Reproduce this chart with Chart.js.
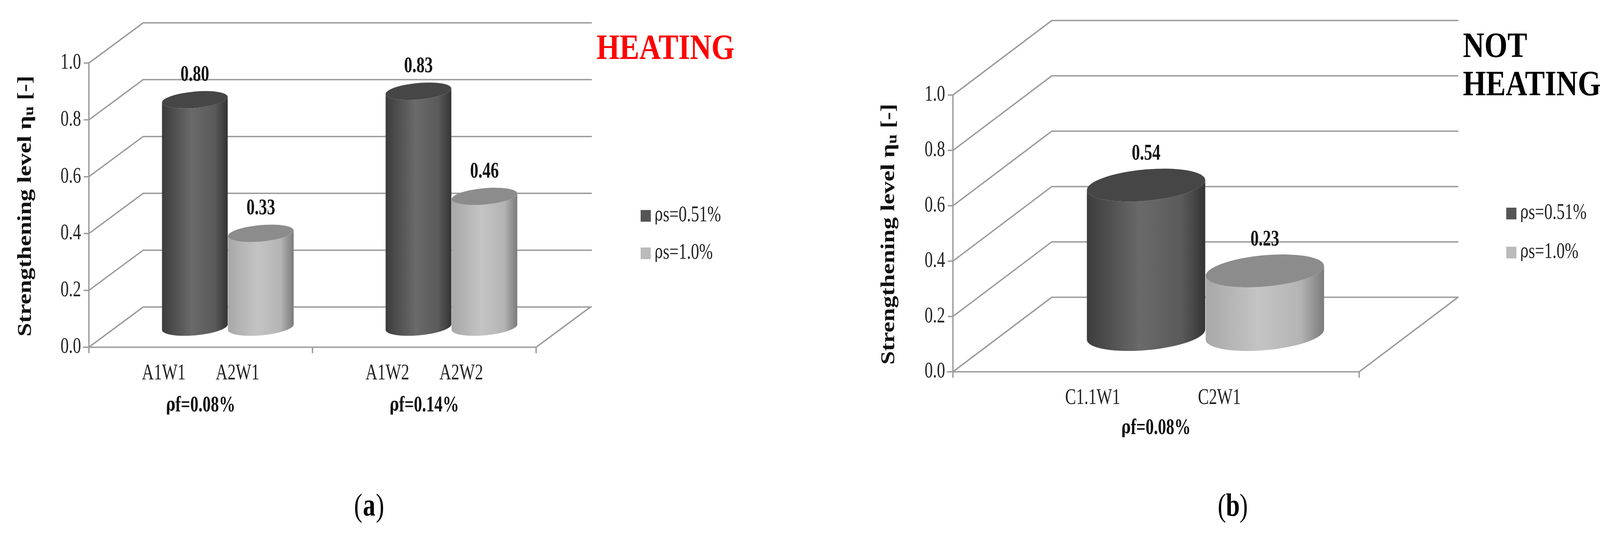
<!DOCTYPE html>
<html><head><meta charset="utf-8">
<script src="https://cdn.jsdelivr.net/npm/chart.js@4"></script>
<style>html,body{margin:0;padding:0;background:#fff;width:4131px;height:1368px;overflow:hidden}
canvas{position:absolute;top:0}</style></head>
<body>
<canvas id="a" width="2066" height="1368" style="left:0"></canvas>
<canvas id="b" width="2065" height="1368" style="left:2066px"></canvas>
<script>
const yTicks = [0.0, 0.2, 0.4, 0.6, 0.8, 1.0];
const seriesLabels = ['ρs=0.51%', 'ρs=1.0%'];
const catsA = ['ρf=0.08%', 'ρf=0.14%'];
const subA = [['A1W1', 'A2W1'], ['A1W2', 'A2W2']];
const darkA = [0.80, 0.83];
const lightA = [0.33, 0.46];
const catsB = ['ρf=0.08%'];
const subB = [['C1.1W1', 'C2W1']];
const darkB = [0.54];
const lightB = [0.23];

const SERIF = '"Liberation Serif", serif';
const GREEK = '"DejaVu Serif", "Noto Sans", serif';

// draw text vertically stretched by sy; Greek rho drawn with a font that has it
function txt(c, s, x, y, size, bold, align, sy) {
  const w = bold ? 'bold ' : '';
  const parts = [];
  let buf = '';
  for (const ch of s) {
    if (ch === 'ρ') { if (buf) parts.push([buf, SERIF]); buf = ''; parts.push(['ρ', GREEK]); }
    else buf += ch;
  }
  if (buf) parts.push([buf, SERIF]);
  let total = 0;
  const ws = parts.map(([t, f]) => { c.font = w + (f === GREEK ? Math.round(size * 0.85) : size) + 'px ' + f; const m = c.measureText(t).width; total += m; return m; });
  let x0 = align === 'center' ? -total / 2 : align === 'right' ? -total : 0;
  c.save();
  c.translate(x, y); c.scale(1, sy);
  c.textAlign = 'left'; c.textBaseline = 'middle';
  parts.forEach(([t, f], i) => {
    c.font = w + (f === GREEK ? Math.round(size * 0.85) : size) + 'px ' + f;
    c.fillText(t, x0, 0); x0 += ws[i];
  });
  c.restore();
}

function make(id, cats, sub, dark, light, cfg) {
  const SY = 1.35;
  const plugin = {
    id: 'fake3d',
    beforeDatasetsDraw(chart) {
      const c = chart.ctx, ys = chart.scales.y, a = chart.chartArea;
      const hx = cfg.dx / 2, hy = cfg.dy / 2;
      const fl = a.left - hx, fr = a.right - hx, br = a.right + cfg.backExtra;
      c.save();
      c.strokeStyle = '#9a9a9a'; c.lineWidth = 3.5; c.lineCap = 'round';
      yTicks.forEach(v => {
        const py = ys.getPixelForValue(v);
        c.beginPath();
        c.moveTo(fl, py + hy); c.lineTo(a.left + hx, py - hy); c.lineTo(br, py - hy);
        c.stroke();
      });
      const p0 = ys.getPixelForValue(0), p1 = ys.getPixelForValue(1);
      c.beginPath();
      c.moveTo(fl, p1 + hy); c.lineTo(fl, p0 + hy + 14);
      c.moveTo(fl - 14, p0 + hy); c.lineTo(fr, p0 + hy); c.lineTo(a.right + hx, p0 - hy);
      yTicks.forEach(v => { const py = ys.getPixelForValue(v) + hy; c.moveTo(fl - 12, py); c.lineTo(fl, py); });
      for (let i = 0; i <= cats.length; i++) {
        const x = fl + (fr - fl) * i / cats.length;
        c.moveTo(x, p0 + hy); c.lineTo(x, p0 + hy + 14);
      }
      c.stroke();
      c.fillStyle = '#222';
      yTicks.forEach(v => txt(c, v.toFixed(1), fl - 20, ys.getPixelForValue(v) + hy, cfg.tickFont, false, 'right', SY));
      const xs = chart.scales.x;
      cats.forEach((cat, i) => {
        chart.data.datasets.forEach((ds, j) => {
          const el = chart.getDatasetMeta(j).data[i];
          txt(c, sub[i][j], el.x - hx + (j === 0 ? -10 : 10), p0 + hy + cfg.subDy, cfg.tickFont, false, 'center', SY);
        });
        c.fillStyle = '#111';
        txt(c, cat, xs.getPixelForValue(i) - hx, p0 + hy + cfg.catDy, cfg.tickFont, true, 'center', SY);
        c.fillStyle = '#222';
      });
      // y title (rotated, stretched along its length)
      c.save();
      c.translate(cfg.titleX, cfg.titleY); c.rotate(-Math.PI / 2); c.scale(cfg.titleStretch, 1);
      c.fillStyle = '#111'; c.textBaseline = 'middle'; c.textAlign = 'left';
      const F = cfg.titleFont, f2 = Math.round(F * 0.7);
      c.font = 'bold ' + F + 'px ' + SERIF;
      const t1 = 'Strengthening level η', w1 = c.measureText(t1).width;
      const t3 = ' [-]', w3 = c.measureText(t3).width;
      c.font = 'bold ' + f2 + 'px ' + SERIF;
      const w2 = c.measureText('u').width;
      let x0 = -(w1 + w2 + w3) / 2;
      c.font = 'bold ' + F + 'px ' + SERIF; c.fillText(t1, x0, 0);
      c.font = 'bold ' + f2 + 'px ' + SERIF; c.fillText('u', x0 + w1, F * 0.2);
      c.font = 'bold ' + F + 'px ' + SERIF; c.fillText(t3, x0 + w1 + w2, 0);
      c.restore();
      c.restore();
    },
    afterDatasetsDraw(chart) {
      const c = chart.ctx, ys = chart.scales.y;
      const ry = cfg.ry, rot = -0.09;
      const order = [];
      chart.data.datasets.forEach((ds, j) => chart.getDatasetMeta(j).data.forEach((el, i) => order.push({ el, j, v: ds.data[i] })));
      order.sort((p, q) => p.el.x - q.el.x);
      order.forEach(({ el, j, v }) => {
        const rx = el.width / 2, cx = el.x, top = el.y, bot = ys.getPixelForValue(0);
        const g = c.createLinearGradient(cx - rx, 0, cx + rx, 0);
        if (j === 0) { g.addColorStop(0, '#3c3c3c'); g.addColorStop(0.45, '#6a6a6a'); g.addColorStop(0.8, '#5a5a5a'); g.addColorStop(1, '#333'); }
        else { g.addColorStop(0, '#a8a8a8'); g.addColorStop(0.45, '#c4c4c4'); g.addColorStop(0.8, '#b4b4b4'); g.addColorStop(1, '#7a7a7a'); }
        c.save();
        c.fillStyle = g;
        c.beginPath();
        c.ellipse(cx, bot, rx, ry, rot, 0, Math.PI);
        c.ellipse(cx, top, rx, ry, rot, Math.PI, 0, true);
        c.closePath(); c.fill();
        c.fillStyle = j === 0 ? '#464646' : '#8c8c8c';
        c.beginPath(); c.ellipse(cx, top, rx, ry, rot, 0, Math.PI * 2); c.fill();
        c.fillStyle = '#111';
        txt(c, v.toFixed(2), cx, top - ry - cfg.valDy, cfg.tickFont, true, 'center', SY);
        c.restore();
      });
      c.save();
      chart.data.datasets.forEach((ds, j) => {
        const y = cfg.legY[j];
        c.fillStyle = j === 0 ? '#555' : '#bbb';
        c.fillRect(cfg.legX, y - 14, 26, 30);
        c.fillStyle = '#222';
        txt(c, ds.label, cfg.legX + 36, y, cfg.legFont, false, 'left', SY);
      });
      c.fillStyle = cfg.headColor;
      cfg.head.forEach((h, k) => txt(c, h, cfg.headX, cfg.headY + k * cfg.headFont * 1.3, cfg.headFont, true, 'left', 1.2));
      c.fillStyle = '#000';
      txt(c, '(', cfg.panX - 28, 1300, 64, false, 'center', 1.3);
      txt(c, ')', cfg.panX + 28, 1300, 64, false, 'center', 1.3);
      txt(c, cfg.pan, cfg.panX, 1300, 64, true, 'center', 1.3);
      c.restore();
    }
  };
  new Chart(document.getElementById(id), {
    type: 'bar',
    data: { labels: cats, datasets: [
      { label: seriesLabels[0], data: dark, backgroundColor: 'rgba(0,0,0,0)' },
      { label: seriesLabels[1], data: light, backgroundColor: 'rgba(0,0,0,0)' }] },
    options: {
      responsive: false, devicePixelRatio: 1, animation: false,
      layout: { padding: cfg.pad },
      categoryPercentage: cfg.catPct, barPercentage: 1,
      plugins: { legend: { display: false }, tooltip: { enabled: false } },
      scales: { x: { display: false }, y: { display: false, min: 0, max: 1 } }
    },
    plugins: [plugin]
  });
}

make('a', catsA, subA, darkA, lightA, {
  pad: { left: 297, right: 624, top: 110, bottom: 530 },
  dx: 139, dy: 103, backExtra: 72, catPct: 0.59, ry: 21,
  tickFont: 42, subDy: 68, catDy: 150, titleFont: 50, titleStretch: 1.25, titleX: 66, titleY: 528,
  valDy: 42, legFont: 42, legX: 1640, legY: [552, 648],
  head: ['HEATING'], headFont: 76, headColor: '#ff0000', headX: 1527, headY: 127,
  pan: 'a', panX: 945
});
make('b', catsB, subB, darkB, lightB, {
  pad: { left: 500, right: 525, top: 148, bottom: 511 },
  dx: 253, dy: 191, backExtra: 126, catPct: 0.585, ry: 40,
  tickFont: 42, subDy: 68, catDy: 145, titleFont: 50, titleStretch: 1.25, titleX: 210, titleY: 600,
  valDy: 40, legFont: 42, legX: 1790, legY: [546, 646],
  head: ['NOT', 'HEATING'], headFont: 76, headColor: '#000', headX: 1679, headY: 122,
  pan: 'b', panX: 1090
});
</script>
</body></html>
